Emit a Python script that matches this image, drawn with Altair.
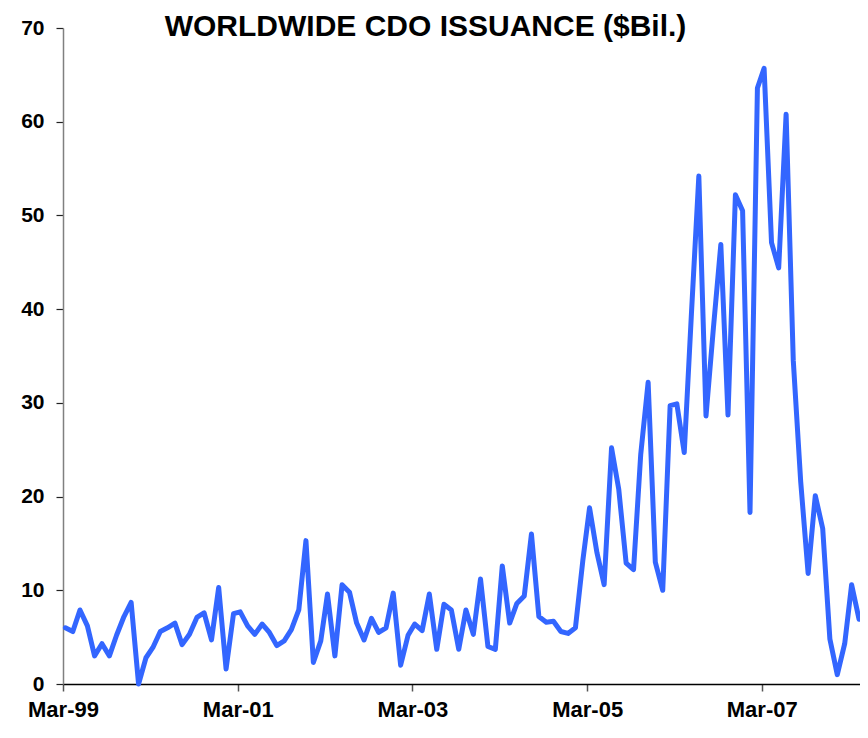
import altair as alt
import pandas as pd

TITLE = "WORLDWIDE CDO ISSUANCE ($Bil.)"

# Monthly issuance, Mar-1999 onward ($ billions)
issuance = [
    6.0, 5.6, 7.9, 6.2, 3.0, 4.3, 3.0, 5.2, 7.2, 8.7,
    0.0, 2.8, 3.9, 5.6, 6.0, 6.5, 4.2, 5.3, 7.1, 7.6,
    4.7, 10.3, 1.6, 7.5, 7.7, 6.2, 5.3, 6.4, 5.5, 4.1,
    4.6, 5.8, 7.9, 15.3, 2.3, 4.6, 9.6, 3.0, 10.6, 9.8,
    6.5, 4.7, 7.0, 5.5, 6.0, 9.7, 2.0, 5.2, 6.4, 5.7,
    9.6, 3.7, 8.5, 7.9, 3.7, 7.9, 5.3, 11.2, 4.0, 3.7,
    12.6, 6.5, 8.6, 9.4, 16.0, 7.2, 6.6, 6.7, 5.6, 5.4,
    6.0, 13.2, 18.8, 14.0, 10.6, 25.2, 20.8, 12.9, 12.2, 24.5,
    32.2, 13.0, 10.0, 29.7, 29.9, 24.7, 39.5, 54.2, 28.6, 38.0,
    46.9, 28.7, 52.2, 50.5, 18.3, 63.6, 65.7, 47.1, 44.4, 60.8,
    34.5, 21.6, 11.8, 20.1, 16.6, 4.8, 1.0, 4.3, 10.6, 6.9,
]

# month of each observation (plotted mid-month)
months = [
    f"{1999 + (2 + i) // 12}-{(2 + i) % 12 + 1:02d}-11T00:00:00"
    for i in range(len(issuance))
]

tick_years = [1999, 2001, 2003, 2005, 2007]
y_ticks = [0, 10, 20, 30, 40, 50, 60, 70]

df = pd.DataFrame({"month": months, "value": issuance})

FONT = "Liberation Sans"

line = (
    alt.Chart(df)
    .mark_line(color="#3366FF", strokeWidth=5, strokeJoin="round", strokeCap="round")
    .encode(
        x=alt.X(
            "month:T",
            scale=alt.Scale(
                domain=[
                    alt.DateTime(year=1999, month=3, date=1),
                    alt.DateTime(year=2008, month=4, date=15),
                ],
                nice=False,
            ),
            axis=alt.Axis(
                values=[alt.DateTime(year=y, month=3, date=1) for y in tick_years],
                format="%b-%y",
                title=None,
                grid=False,
                domainColor="#000000",
                domainWidth=1.5,
                tickColor="#555555",
                tickWidth=1.5,
                tickSize=7,
                labelFont=FONT,
                labelFontWeight="bold",
                labelFontSize=22,
                labelColor="#000000",
                labelPadding=8,
                labelAlign="center",
                labelFlush=False,
                labelOverlap=False,
            ),
        ),
        y=alt.Y(
            "value:Q",
            scale=alt.Scale(domain=[0, 70], nice=False, zero=True),
            axis=alt.Axis(
                values=y_ticks,
                title=None,
                grid=False,
                domainColor="#808080",
                domainWidth=1.5,
                tickColor="#222222",
                tickWidth=1.2,
                tickSize=7,
                labelFont=FONT,
                labelFontWeight="bold",
                labelFontSize=21,
                labelColor="#000000",
                labelPadding=12,
            ),
        ),
    )
)

title = (
    alt.Chart(alt.Data(values=[{"t": TITLE}]))
    .mark_text(
        font=FONT,
        fontWeight="bold",
        fontSize=30,
        color="#000000",
        align="center",
        baseline="alphabetic",
    )
    .encode(x=alt.value(362.5), y=alt.value(7.5), text="t:N")
)

chart = (
    alt.layer(line, title)
    .properties(
        width=797,
        height=656,
        autosize=alt.AutoSizeParams(type="none"),
        padding={"left": 55, "top": 20, "right": 0, "bottom": 38},
        background="#FFFFFF",
    )
    .configure_view(stroke="transparent")
)

chart.save("out.html", embed_options={"renderer": "svg", "actions": False})
